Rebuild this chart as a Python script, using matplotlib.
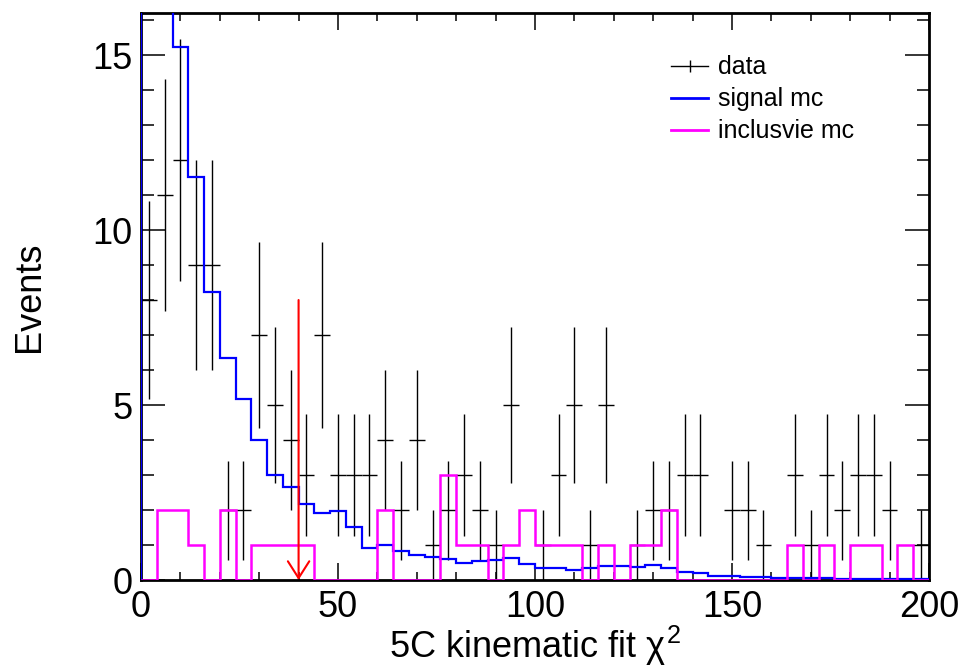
import matplotlib
matplotlib.use('Agg')
import matplotlib.pyplot as plt
from matplotlib.lines import Line2D
from matplotlib.ticker import MultipleLocator
import numpy as np

plt.rcParams['font.family'] = ['Liberation Sans', 'DejaVu Sans']
plt.rcParams['mathtext.fontset'] = 'custom'
plt.rcParams['mathtext.rm'] = 'Liberation Sans'
plt.rcParams['mathtext.it'] = 'Liberation Sans'

# binning: 50 bins de 0 a 200
bin_edges = np.linspace(0, 200, 51)

# donnees (comptes par bin)
data_counts = np.array([8, 11, 12, 9, 9, 2, 2, 7, 5, 4,
                        3, 7, 3, 3, 3, 4, 2, 4, 1, 2,
                        3, 2, 1, 5, 0, 1, 3, 5, 1, 5,
                        0, 1, 2, 2, 3, 3, 0, 2, 2, 1,
                        0, 3, 1, 3, 2, 3, 3, 2, 0, 1])

# signal MC (normalise)
signal_mc = np.array([25, 18, 15.24, 11.52, 8.24, 6.35, 5.16, 3.99, 3.01, 2.66,
                      2.16, 1.92, 1.97, 1.52, 0.92, 1.0, 0.83, 0.71, 0.67, 0.60,
                      0.50, 0.55, 0.57, 0.64, 0.45, 0.35, 0.35, 0.30, 0.35, 0.40,
                      0.40, 0.36, 0.43, 0.35, 0.24, 0.19, 0.12, 0.12, 0.10, 0.09,
                      0.06, 0.06, 0.05, 0.05, 0.04, 0.04, 0.03, 0.03, 0.03, 0.02])

# inclusive MC
inclusive_mc = np.array([0, 2, 2, 1, 0, 2, 0, 1, 1, 1,
                         1, 0, 0, 0, 0, 2, 0, 0, 0, 3,
                         1, 1, 0, 1, 2, 1, 1, 1, 0, 1,
                         0, 1, 1, 2, 0, 0, 0, 0, 0, 0,
                         0, 1, 0, 1, 0, 1, 1, 0, 1, 0])

cut_value = 40
arrow_top = 8

fig = plt.figure(figsize=(9.71, 6.68), dpi=100)
ax = fig.add_axes([0.1452, 0.1317, 0.8115, 0.8488])

centers = 0.5 * (bin_edges[:-1] + bin_edges[1:])
half_w = 0.5 * np.diff(bin_edges)
mask = data_counts > 0
ax.errorbar(centers[mask], data_counts[mask], xerr=half_w[mask],
            yerr=np.sqrt(data_counts[mask]), fmt='none', ecolor='black',
            elinewidth=1.0, capsize=0, zorder=2)

ax.stairs(signal_mc, bin_edges, baseline=0, color='#0000ff', lw=1.6, zorder=3)
ax.stairs(inclusive_mc, bin_edges, baseline=0, color='#ff00ff', lw=1.8, zorder=4)

# fleche de coupure
ax.annotate('', xy=(cut_value, 0), xytext=(cut_value, arrow_top),
            arrowprops=dict(arrowstyle='->,head_length=0.55,head_width=0.35',
                            color='red', lw=1.5, mutation_scale=22,
                            shrinkA=0, shrinkB=0), zorder=5)

ax.set_xlim(0, 200)
ax.set_ylim(0, 16.2)
ax.xaxis.set_major_locator(MultipleLocator(50))
ax.xaxis.set_minor_locator(MultipleLocator(10))
ax.yaxis.set_major_locator(MultipleLocator(5))
ax.yaxis.set_minor_locator(MultipleLocator(1))
ax.tick_params(which='both', direction='in', top=True, right=True, labelsize=26, width=1.1)
ax.tick_params(axis='x', which='major', length=12, pad=7)
ax.tick_params(axis='x', which='minor', length=6)
ax.tick_params(axis='y', which='major', length=17, pad=6)
ax.tick_params(axis='y', which='minor', length=9)
for sp in ax.spines.values():
    sp.set_linewidth(2)

ax.set_xlabel(r'5C kinematic fit $\chi^{2}$', fontsize=26, labelpad=-1)
ax.set_ylabel('Events', fontsize=26, labelpad=33)

handles = [Line2D([0], [0], color='black', lw=1, marker='|', markersize=9, markeredgewidth=1),
           Line2D([0], [0], color='#0000ff', lw=2),
           Line2D([0], [0], color='#ff00ff', lw=2)]
labels = ['data', 'signal mc', 'inclusvie mc']
fig.legend(handles, labels, loc='upper left', bbox_to_anchor=(0.691, 0.917),
           frameon=False, fontsize=18, handlelength=1.5, handletextpad=0.4,
           labelspacing=0.32, borderaxespad=0, borderpad=0)

fig.savefig('out.png', dpi=100)
